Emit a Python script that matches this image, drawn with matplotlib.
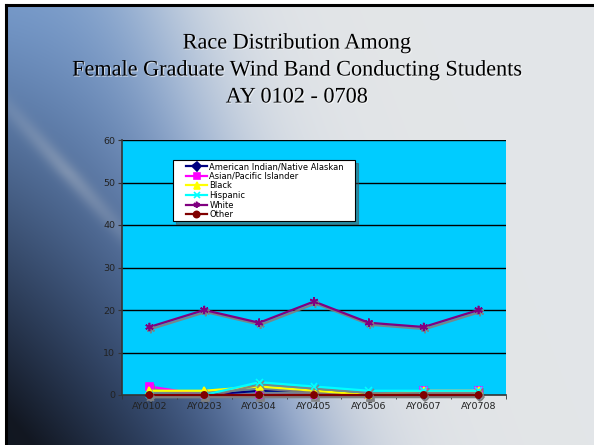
import numpy as np
import matplotlib
matplotlib.use('Agg')
import matplotlib.pyplot as plt
import matplotlib.patheffects as pe
from matplotlib.lines import Line2D
from matplotlib.legend_handler import HandlerLine2D

# ---- data ----
categories = ['AY0102', 'AY0203', 'AY0304', 'AY0405', 'AY0506', 'AY0607', 'AY0708']
series_names = ['American Indian/Native Alaskan', 'Asian/Pacific Islander', 'Black',
                'Hispanic', 'White', 'Other']
american_indian = [0, 0, 1, 1, 0, 0, 0]
asian_pacific = [2, 0, 0, 0, 0, 1, 1]
black = [1, 1, 2, 1, 0, 1, 1]
hispanic = [0, 0, 3, 2, 1, 1, 1]
white = [16, 20, 17, 22, 17, 16, 20]
other = [0, 0, 0, 0, 0, 0, 0]
y_ticks = [0, 10, 20, 30, 40, 50, 60]

title_lines = ['Race Distribution Among',
               'Female Graduate Wind Band Conducting Students',
               'AY 0102 - 0708']

W, H = 594, 445
fig = plt.figure(figsize=(W / 100, H / 100), dpi=100)
fig.patch.set_facecolor('white')

# ---- background gradient ----
bx0, by1 = 6, 5
bg = fig.add_axes([bx0 / W, 0, (W - bx0) / W, (H - by1) / H])
h, w = H - by1, W - bx0
yy, xx = np.mgrid[0:h, 0:w].astype(float)
ny = yy / h
bnd = 150 + 150 * ny
wgt = 1 / (1 + np.exp(-(xx - bnd) / 40))
dark = np.array([0.07, 0.09, 0.13])
blue = np.array([0.45, 0.59, 0.78])
blue_bot = np.array([0.30, 0.44, 0.68])
gray = np.array([0.89, 0.90, 0.91])
d = np.clip(ny ** 1.3 * (1 - xx / bnd) * 1.1, 0, 1)[..., None]
bcol = blue[None, None, :] * (1 - ny[..., None]) + blue_bot[None, None, :] * ny[..., None]
col = bcol * (1 - d) + dark * d
streak = np.exp(-((xx - (10 + 0.9 * (yy - 110))) / 12) ** 2) * np.clip(1 - np.abs(ny - 0.38) * 4, 0, 1)
col = col + (0.85 - col) * (0.30 * streak)[..., None]
img = col * (1 - wgt[..., None]) + gray * wgt[..., None]
bg.imshow(np.clip(img, 0, 1), aspect='auto', extent=[0, w, h, 0])
bg.set_xlim(0, w)
bg.set_ylim(h, 0)
bg.axis('off')
fig.add_artist(Line2D([bx0 / W, bx0 / W], [0, (H - by1) / H], color='black', lw=2.2,
                      transform=fig.transFigure))
fig.add_artist(Line2D([bx0 / W, 1], [(H - by1) / H, (H - by1) / H], color='black', lw=2.2,
                      transform=fig.transFigure))

# ---- title ----
for i, t in enumerate(title_lines):
    fig.text(0.5, 1 - (44 + 27 * i) / H, t, ha='center', va='center',
             family='Liberation Serif', fontsize=16, color='black',
             path_effects=[pe.withSimplePatchShadow(offset=(0.8, -0.8),
                                                     shadow_rgbFace='white', alpha=0.6)])

# ---- plot ----
left, right, top, bottom = 122, 506, 140, 395
ax = fig.add_axes([left / W, 1 - bottom / H, (right - left) / W, (bottom - top) / H])
ax.set_facecolor('#00CCFF')
x = np.arange(len(categories))

styles = [
    (american_indian, '#000080', 'D', 4, '#000080'),
    (asian_pacific, '#FF00FF', 's', 5, '#FF00FF'),
    (black, '#FFFF00', '^', 5, '#FFFF00'),
    (hispanic, '#00FFFF', 'x', 5, '#00FFFF'),
    (white, '#800080', (6, 2, 0), 6, '#800080'),
    (other, '#800000', 'o', 4.5, '#800000'),
]
shadow = [pe.SimpleLineShadow(offset=(1, -1.5), shadow_color='#808080', alpha=0.9), pe.Normal()]
for (vals, c, m, ms, mc), name in zip(styles, series_names):
    ax.plot(x, vals, color=c, lw=1.6, marker=m, markersize=ms, markerfacecolor=mc,
            markeredgecolor=mc, markeredgewidth=1.2, label=name, path_effects=shadow,
            clip_on=False, zorder=3)

ax.set_xlim(-0.5, len(categories) - 0.5)
ax.set_ylim(0, 60)
ax.set_yticks(y_ticks)
ax.set_yticklabels([str(v) for v in y_ticks], family='DejaVu Sans', fontsize=6.8, color='#222222')
ax.set_xticks(x)
ax.set_xticklabels(categories, family='DejaVu Sans', fontsize=6.8, color='#222222')
ax.tick_params(axis='x', length=0, pad=5)
ax.set_xticks(np.arange(-0.5, len(categories)), minor=True)
ax.tick_params(axis='x', which='minor', length=3, direction='out', color='#333333')
ax.tick_params(axis='y', length=3, direction='out', color='#333333', pad=2)
for yv in y_ticks[1:]:
    ax.axhline(yv, color='black', lw=1.0, zorder=1)
ax.spines['right'].set_visible(False)
ax.spines['top'].set_visible(False)
ax.spines['left'].set_color('#333333')
ax.spines['bottom'].set_color('#333333')
ax.spines['left'].set_linewidth(1.2)
ax.spines['bottom'].set_linewidth(1.2)


# ---- legend ----
class ShiftedHandler(HandlerLine2D):
    def create_artists(self, legend, orig_handle, xdescent, ydescent, width, height,
                       fontsize, trans):
        off = 11 * 72 / 100  # points
        arts = super().create_artists(legend, orig_handle, xdescent - off, ydescent,
                                      width - off, height, fontsize, trans)
        for a in arts:
            a.set_path_effects([pe.Normal()])
            if a.get_marker() not in (None, 'None', ''):
                a.set_markersize(4.5)
        return arts


lx0, ly0, lx1, ly1 = 173, 160, 355, 223
handles, labels = ax.get_legend_handles_labels()
leg = ax.legend(handles, labels, loc='upper left',
                bbox_to_anchor=((lx0 - left) / (right - left), 1 - (ly1 - top) / (bottom - top),
                                (lx1 - lx0) / (right - left), (ly1 - ly0) / (bottom - top)),
                mode='expand', frameon=True, fancybox=False, shadow=True,
                borderpad=0.25, labelspacing=0.08, handlelength=3.85, handletextpad=0.25,
                borderaxespad=0, prop={'family': 'DejaVu Sans', 'size': 6.0},
                handler_map={Line2D: ShiftedHandler()})
leg.get_frame().set_edgecolor('black')
leg.get_frame().set_linewidth(0.8)
leg.get_frame().set_facecolor('white')
leg.set_zorder(5)

fig.savefig('out.png', dpi=100)
